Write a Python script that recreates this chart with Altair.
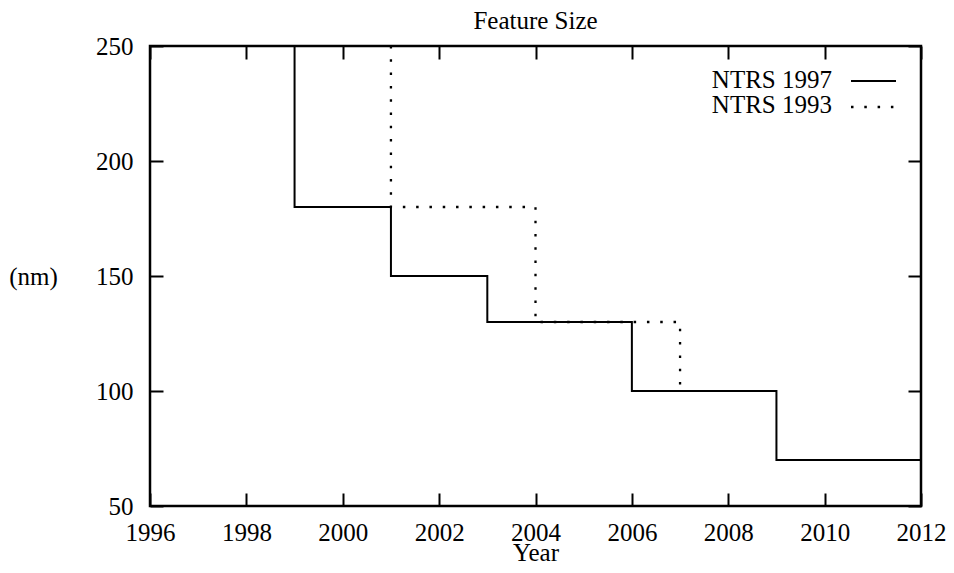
import altair as alt
import pandas as pd

# ---- data ----
years_1997 = [1999, 2001, 2003, 2006, 2009, 2012]
size_1997 = [250, 180, 150, 130, 100, 70]
years_1993 = [2001, 2004, 2007, 2007]
size_1993 = [250, 180, 130, 100]
x_ticks = [1996, 1998, 2000, 2002, 2004, 2006, 2008, 2010, 2012]
y_ticks = [50, 100, 150, 200, 250]
legend_labels = ["NTRS 1997", "NTRS 1993"]
chart_title = ["Feature Size"]

FONT = "Liberation Serif"
FS = 25
W, H = 771, 460
LEFT, TOP = 142, 38
TICK = 13

df97 = pd.DataFrame({"year": years_1997, "nm": size_1997})
df93 = pd.DataFrame({"year": years_1993, "nm": size_1993})

xscale = alt.Scale(domain=[x_ticks[0], x_ticks[-1]], nice=False, zero=False)
yscale = alt.Scale(domain=[y_ticks[0], y_ticks[-1]], nice=False, zero=False)

common = dict(offset=-TICK, tickSize=TICK, tickWidth=2, tickColor="black",
              domain=False, grid=False)

x_bottom = alt.Axis(values=x_ticks, format="d", orient="bottom",
                    labelFont=FONT, labelFontSize=FS, labelColor="black",
                    labelPadding=14, labelFlush=False, labelOverlap=False,
                    labelBound=False,
                    title="Year", titleFont=FONT, titleFontSize=FS,
                    titleFontWeight="normal", titleColor="black",
                    titleX=W / 2, titleY=59, titleAlign="center",
                    titleBaseline="middle", **common)
y_left = alt.Axis(values=y_ticks, orient="left",
                  labelFont=FONT, labelFontSize=FS, labelColor="black",
                  labelPadding=17, labelFlush=False, labelOverlap=False,
                  title="(nm)", titleFont=FONT, titleFontSize=FS,
                  titleFontWeight="normal", titleColor="black",
                  titleAngle=0, titleX=-130, titleY=230, titleAlign="center",
                  titleBaseline="middle", **common)
x_top = alt.Axis(values=x_ticks, orient="top", labels=False, title=None, **common)
y_right = alt.Axis(values=y_ticks, orient="right", labels=False, title=None, **common)

solid = alt.Chart(df97).mark_line(
    interpolate="step-before", color="black", strokeWidth=2, clip=True
).encode(
    x=alt.X("year:Q", scale=xscale, axis=x_bottom),
    y=alt.Y("nm:Q", scale=yscale, axis=y_left),
)

dotted = alt.Chart(df93).mark_line(
    interpolate="step-before", color="black", strokeWidth=2.3,
    strokeDash=[2.5, 10.8], clip=True
).encode(
    x=alt.X("year:Q", scale=xscale, axis=x_top),
    y=alt.Y("nm:Q", scale=yscale, axis=y_right),
)

leg1 = pd.DataFrame({"label": [legend_labels[0]]})
leg2 = pd.DataFrame({"label": [legend_labels[1]]})
tdf = pd.DataFrame({"label": chart_title})

LX = W - 89  # right edge of legend labels (plot coords)
t1 = alt.Chart(leg1).mark_text(align="right", baseline="middle", font=FONT,
                               fontSize=FS, color="black").encode(
    x=alt.value(LX), y=alt.value(34), text="label:N")
t2 = alt.Chart(leg2).mark_text(align="right", baseline="middle", font=FONT,
                               fontSize=FS, color="black").encode(
    x=alt.value(LX), y=alt.value(59), text="label:N")
r1 = alt.Chart(leg1).mark_rule(color="black", strokeWidth=2).encode(
    x=alt.value(LX + 19), x2=alt.value(LX + 64), y=alt.value(35))
r2 = alt.Chart(leg2).mark_rule(color="black", strokeWidth=2.3,
                               strokeDash=[2.5, 10.8]).encode(
    x=alt.value(LX + 19), x2=alt.value(LX + 64), y=alt.value(61))
title = alt.Chart(tdf).mark_text(align="center", baseline="middle", font=FONT,
                                 fontSize=25, color="black").encode(
    x=alt.value(W / 2), y=alt.value(-25.5), text="label:N")

chart = alt.layer(solid, dotted, t1, t2, r1, r2, title).resolve_axis(
    x="independent", y="independent"
).properties(
    width=W, height=H,
    autosize="none",
    background="white",
    padding={"left": LEFT, "top": TOP, "right": 938 - LEFT - W, "bottom": 59},
).configure_view(stroke="black", strokeWidth=2.5)

chart.save("out.html", embed_options={"renderer": "svg", "actions": False})
